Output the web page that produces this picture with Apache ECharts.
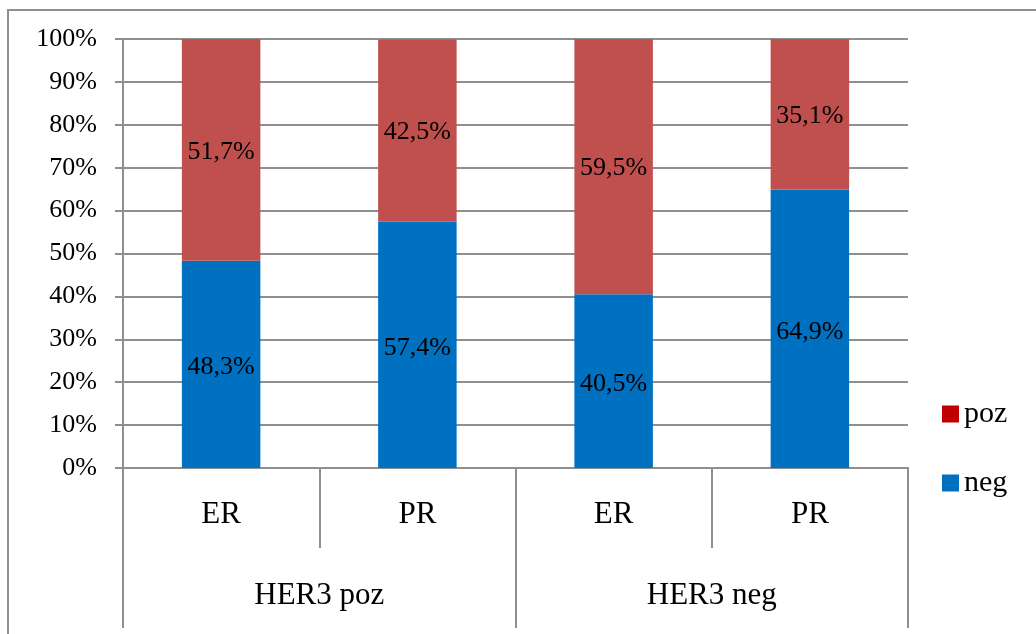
<!DOCTYPE html>
<html>
<head>
<meta charset="utf-8">
<script src="https://cdn.jsdelivr.net/npm/echarts@6/dist/echarts.min.js"></script>
<style>
html,body{margin:0;padding:0;background:#fff;}
#chart{width:1036px;height:634px;}
</style>
</head>
<body>
<div id="chart"></div>
<script>
const categories = ['ER', 'PR', 'ER', 'PR'];
const groups = ['HER3 poz', 'HER3 neg'];
const negValues = [48.3, 57.4, 40.5, 64.9];
const pozValues = [51.7, 42.5, 59.5, 35.1];

const FONT = "'Liberation Serif', 'Times New Roman', serif";
const GRID_COLOR = '#8f8f8f';

const chart = echarts.init(document.getElementById('chart'));
const fmt = p => p.value.toFixed(1).replace('.', ',') + '%';

chart.setOption({
  animation: false,
  backgroundColor: '#fff',
  textStyle: { fontFamily: FONT },
  graphic: [{
    type: 'rect',
    shape: { x: 8, y: 10, width: 1100, height: 700 },
    style: { fill: 'none', stroke: GRID_COLOR, lineWidth: 2 },
    silent: true, z: -1
  }],
  grid: { left: 123, right: 128, top: 39, bottom: 166 },
  legend: {
    orient: 'vertical',
    left: 937,
    top: 394,
    itemWidth: 17,
    itemHeight: 17,
    itemGap: 39,
    itemTextGap: 6,
    icon: 'rect',
    textStyle: { fontFamily: FONT, fontSize: 30, color: '#000', lineHeight: 17 },
    data: [
      { name: 'poz', itemStyle: { color: '#C00000' } },
      { name: 'neg', itemStyle: { color: '#0070C0' } }
    ]
  },
  xAxis: [{
    type: 'category',
    data: categories,
    position: 'bottom',
    axisLine: { show: true, lineStyle: { color: GRID_COLOR, width: 2 } },
    axisTick: { show: true, length: 80, alignWithLabel: false, lineStyle: { color: GRID_COLOR, width: 2 } },
    axisLabel: { fontFamily: FONT, fontSize: 31, color: '#000', margin: 32, lineHeight: 30 }
  }, {
    type: 'category',
    data: groups,
    position: 'bottom',
    offset: 80,
    axisLine: { show: false },
    axisTick: { show: true, length: 80, alignWithLabel: false, lineStyle: { color: GRID_COLOR, width: 2 } },
    axisLabel: { fontFamily: FONT, fontSize: 31, color: '#000', margin: 33, lineHeight: 30 }
  }],
  yAxis: {
    type: 'value',
    min: 0,
    max: 100,
    interval: 10,
    axisLine: { show: true, lineStyle: { color: GRID_COLOR, width: 2 } },
    axisTick: { show: true, length: 8, lineStyle: { color: GRID_COLOR, width: 2 } },
    splitLine: { show: true, lineStyle: { color: GRID_COLOR, width: 2 } },
    axisLabel: { fontFamily: FONT, fontSize: 26, color: '#000', margin: 26, formatter: '{value}%' }
  },
  series: [{
    name: 'neg',
    type: 'bar',
    stack: 'total',
    barWidth: '40%',
    data: negValues,
    itemStyle: { color: '#0070C0' },
    label: { show: true, position: 'inside', offset: [0, 3], formatter: fmt, fontFamily: FONT, fontSize: 26, color: '#000' }
  }, {
    name: 'poz',
    type: 'bar',
    stack: 'total',
    barWidth: '40%',
    data: pozValues,
    itemStyle: { color: '#C0504D' },
    label: { show: true, position: 'inside', offset: [0, 2], formatter: fmt, fontFamily: FONT, fontSize: 26, color: '#000' }
  }]
});
</script>
</body>
</html>
